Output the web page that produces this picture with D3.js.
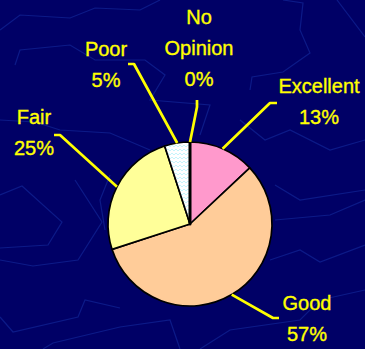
<!DOCTYPE html>
<html>
<head>
<meta charset="utf-8">
<script src="https://cdn.jsdelivr.net/npm/d3@7"></script>
<style>
  html, body { margin: 0; padding: 0; background: #000066; }
  svg { display: block; }
</style>
</head>
<body>
<svg id="chart" width="365" height="349"></svg>
<script>
// Survey answers, clockwise from 12 o'clock
const categories = ["Excellent", "Good", "Fair", "Poor", "No Opinion"];
const labelLines = [["Excellent"], ["Good"], ["Fair"], ["Poor"], ["No", "Opinion"]];
const percents = [13, 57, 25, 5, 0];
const sliceFills = ["#FF99CC", "#FFCC99", "#FFFF99", "url(#wave)", "#FFFFFF"];

// Label anchors (centre x, baseline of first line) and leader elbows/ends
const labelPos = [[319, 93], [307, 310], [34, 124], [106, 56], [199, 24]];
const leaderElbow = [[270, 103], [273, 318], [60, 135], [134, 64], [197, 107]];
const leaderEnd = [[277, 103], [279, 318], [54, 135], [128, 64], [197, 100]];

const W = 365, H = 349;
const cx = 190, cy = 224, R = 82;
const lineGap = 31;

const svg = d3.select("#chart");
const defs = svg.append("defs");

// Zigzag wave fill used for the "Poor" slice
const wave = defs.append("pattern")
  .attr("id", "wave").attr("patternUnits", "userSpaceOnUse")
  .attr("width", 4).attr("height", 4);
wave.append("rect").attr("width", 4).attr("height", 4).attr("fill", "#FFFFFF");
wave.append("path").attr("d", "M0,3 L2,1 L4,3")
  .attr("fill", "none").attr("stroke", "#BFF3FA").attr("stroke-width", 0.9);

// Faint contour lines in the backdrop
const backdrop = [
  [[0,195],[22,186],[62,222],[48,245],[0,248]],
  [[75,180],[102,222],[78,260],[33,266],[0,260]],
  [[0,317],[13,332],[78,317],[85,300],[120,308]],
  [[43,349],[53,343],[120,327],[170,320],[180,349]],
  [[283,0],[303,3],[300,30],[310,53],[283,72],[252,77],[250,90]],
  [[337,0],[365,37]],
  [[0,30],[20,15],[70,18],[95,8],[140,10],[160,0]],
  [[15,65],[20,50],[70,45],[95,60],[145,60],[165,75],[150,100],[210,105],[200,135]],
  [[0,120],[35,122],[60,130],[110,133],[150,150]],
  [[275,185],[300,200],[365,190]],
  [[275,220],[330,215],[365,200]],
  [[270,260],[300,250],[320,262],[365,245]],
  [[200,349],[230,330],[300,320],[320,300],[365,290]],
  [[240,120],[265,140],[290,130],[330,150],[365,140]],
  [[110,175],[100,200],[105,230]]
];
svg.append("g").selectAll("path").data(backdrop).join("path")
  .attr("d", d3.line())
  .attr("fill", "none").attr("stroke", "#0C1A88").attr("stroke-width", 1.2);

// Pie
const data = categories.map((c, i) => ({ name: c, value: percents[i], i }));
const pie = d3.pie().value(d => d.value).sort(null);
const arcs = pie(data);
const arc = d3.arc().innerRadius(0).outerRadius(R);

const g = svg.append("g").attr("transform", `translate(${cx},${cy})`);
g.selectAll("path.slice").data(arcs).join("path")
  .attr("class", "slice")
  .attr("d", arc)
  .attr("fill", d => sliceFills[d.data.i])
  .attr("stroke", "#000")
  .attr("stroke-width", d => d.value === 0 ? 3 : 1.7)
  .attr("stroke-linejoin", "round");

// Leader lines from the slice rim to each label
const leaders = arcs.map(a => {
  const mid = (a.startAngle + a.endAngle) / 2;
  const start = [cx + R * Math.sin(mid), cy - R * Math.cos(mid)];
  return [start, leaderElbow[a.data.i], leaderEnd[a.data.i]];
});
svg.append("g").selectAll("path").data(leaders).join("path")
  .attr("d", d3.line())
  .attr("fill", "none").attr("stroke", "#FFFF00")
  .attr("stroke-width", 2.7).attr("stroke-linejoin", "round");

// Labels: category name followed by its share
const labels = svg.append("g")
  .attr("font-family", "'Liberation Sans', Arial, sans-serif")
  .attr("font-size", 20).attr("fill", "#FFFF00")
  .attr("stroke", "#FFFF00").attr("stroke-width", 0.35)
  .attr("text-anchor", "middle");
data.forEach(d => {
  const lines = labelLines[d.i].concat([`${d.value}%`]);
  const [x, y] = labelPos[d.i];
  const t = labels.append("text").attr("x", x).attr("y", y);
  lines.forEach((s, k) => {
    t.append("tspan").attr("x", x).attr("y", y + k * lineGap).text(s);
  });
});
</script>
</body>
</html>
